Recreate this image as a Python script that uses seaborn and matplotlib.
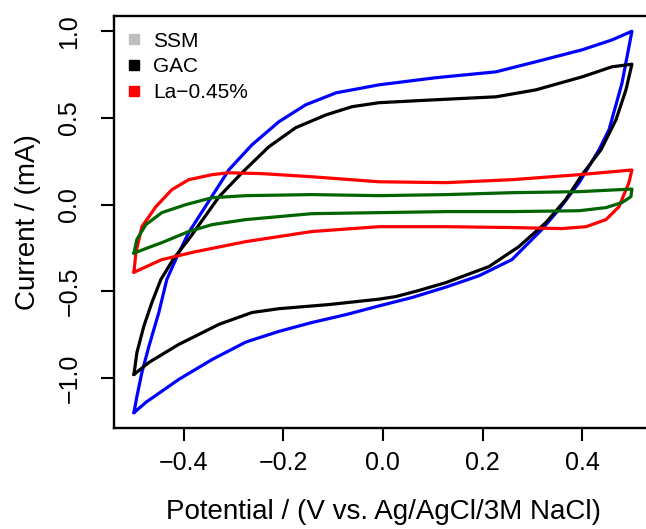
import matplotlib
matplotlib.use("Agg")
import matplotlib.pyplot as plt
import seaborn as sns
from matplotlib.lines import Line2D

# ---------------- data (potential in V, current in mA) ----------------
blue_potential = [-0.500, -0.494, -0.484, -0.470, -0.450, -0.434, -0.412, -0.390, -0.343, -0.309,
                  -0.263, -0.209, -0.155, -0.094, -0.008, 0.106, 0.227, 0.307, 0.400, 0.460, 0.500,
                  0.480, 0.454, 0.434, 0.394, 0.353, 0.319, 0.259, 0.193, 0.127, 0.058, -0.008,
                  -0.074, -0.143, -0.209, -0.275, -0.343, -0.410, -0.476, -0.500]
blue_current = [-1.200, -1.106, -0.968, -0.818, -0.622, -0.432, -0.290, -0.161, 0.050, 0.202,
                0.345, 0.478, 0.576, 0.645, 0.691, 0.732, 0.766, 0.824, 0.893, 0.950, 1.000,
                0.700, 0.432, 0.317, 0.127, -0.029, -0.144, -0.317, -0.410, -0.475, -0.536, -0.584,
                -0.634, -0.680, -0.731, -0.792, -0.893, -1.008, -1.140, -1.200]

black_potential = [-0.500, -0.494, -0.480, -0.464, -0.446, -0.420, -0.390, -0.329, -0.283, -0.229,
                   -0.175, -0.114, -0.062, -0.008, 0.106, 0.227, 0.307, 0.400, 0.460, 0.500,
                   0.488, 0.468, 0.438, 0.400, 0.367, 0.327, 0.273, 0.213, 0.127, 0.072, 0.026,
                   -0.008, -0.108, -0.209, -0.263, -0.329, -0.410, -0.470, -0.500]
black_current = [-0.980, -0.853, -0.700, -0.565, -0.432, -0.310, -0.200, 0.046, 0.184, 0.334,
                 0.444, 0.518, 0.565, 0.588, 0.605, 0.622, 0.662, 0.737, 0.795, 0.810,
                 0.662, 0.490, 0.317, 0.173, 0.029, -0.104, -0.242, -0.357, -0.449, -0.495, -0.530,
                 -0.545, -0.576, -0.600, -0.622, -0.690, -0.806, -0.910, -0.980]

red_potential = [-0.500, -0.496, -0.484, -0.456, -0.424, -0.390, -0.343, -0.309, -0.243, -0.143,
                 -0.008, 0.127, 0.259, 0.394, 0.500,
                 0.494, 0.474, 0.448, 0.408, 0.359, 0.259, 0.127, -0.008, -0.143, -0.275,
                 -0.376, -0.444, -0.500]
red_current = [-0.390, -0.276, -0.127, -0.012, 0.086, 0.144, 0.173, 0.184, 0.179, 0.161,
               0.132, 0.127, 0.144, 0.173, 0.200,
               0.127, -0.012, -0.086, -0.127, -0.138, -0.132, -0.127, -0.127, -0.155, -0.213,
               -0.271, -0.317, -0.390]

green_potential = [-0.500, -0.494, -0.476, -0.444, -0.396, -0.343, -0.275, -0.143, -0.008, 0.127,
                   0.259, 0.394, 0.500,
                   0.498, 0.480, 0.448, 0.394, 0.259, 0.127, -0.008, -0.143, -0.275, -0.343,
                   -0.390, -0.444, -0.476, -0.500]
green_current = [-0.280, -0.200, -0.115, -0.046, 0.000, 0.040, 0.052, 0.058, 0.052, 0.058,
                 0.069, 0.075, 0.090,
                 0.046, 0.012, -0.017, -0.035, -0.040, -0.040, -0.046, -0.052, -0.086, -0.115,
                 -0.155, -0.219, -0.253, -0.280]

legend_labels = ["SSM", "GAC", "La\u22120.45%"]
legend_colors = ["#BEBEBE", "#000000", "#FF0000"]

x_ticks = [-0.4, -0.2, 0.0, 0.2, 0.4]
x_tick_labels = ["\u22120.4", "\u22120.2", "0.0", "0.2", "0.4"]
y_ticks = [1.0, 0.5, 0.0, -0.5, -1.0]
y_tick_labels = ["1.0", "0.5", "0.0", "\u22120.5", "\u22121.0"]

# ---------------- figure ----------------
sns.set_theme(style="ticks")
plt.rcParams['font.family'] = ['Liberation Sans', 'DejaVu Sans']
plt.rcParams['text.color'] = 'black'
plt.rcParams['axes.labelcolor'] = 'black'
plt.rcParams['xtick.color'] = 'black'
plt.rcParams['ytick.color'] = 'black'

W, H = 646, 529
fig = plt.figure(figsize=(W / 100, H / 100), dpi=100, facecolor='white')
# the plot box runs off the right edge of the image, as in the reference
ax_left, ax_right, ax_top, ax_bottom = 114, 700, 16, 428
ax = fig.add_axes([ax_left / W, 1 - ax_bottom / H, (ax_right - ax_left) / W, (ax_bottom - ax_top) / H])

curves = [
    (blue_potential, blue_current, "#0000FF"),
    (black_potential, black_current, "#000000"),
    (red_potential, red_current, "#FF0000"),
    (green_potential, green_current, "#006400"),
]
for xs, ys, col in curves:
    sns.lineplot(x=xs, y=ys, sort=False, estimator=None, color=col, lw=2.3,
                 solid_joinstyle='round', ax=ax)

px_per_volt = 498.0
ax.set_xlim(-0.54, -0.54 + (ax_right - ax_left) / px_per_volt)
ax.set_ylim(-1.288, 1.088)
ax.set_xticks(x_ticks)
ax.set_xticklabels(x_tick_labels)
ax.set_yticks(y_ticks)
ax.set_yticklabels(y_tick_labels)

for name, s in ax.spines.items():
    s.set_visible(name != 'right')
    s.set_linewidth(1.7)
    s.set_color("black")

ax.tick_params(axis='both', direction='out', length=9.5, width=1.5, colors='black', labelsize=18,
               right=False, top=False)
ax.tick_params(axis='x', pad=7)
ax.tick_params(axis='y', pad=14)
for lbl in ax.get_yticklabels():
    lbl.set_rotation(90)
    lbl.set_va('center')

ax.set_xlabel("Potential / (V vs. Ag/AgCl/3M NaCl)", fontsize=20, color='black')
ax.set_ylabel("Current / (mA)", fontsize=20, color='black')
ax.xaxis.set_label_coords((384 - ax_left) / (ax_right - ax_left), -0.172)
ax.yaxis.set_label_coords(-(114 - 41) / (ax_right - ax_left), 0.5)

handles = [Line2D([], [], marker='s', ls='none', color=c, markersize=6.5) for c in legend_colors]
ax.legend(handles, legend_labels, loc='upper left',
          bbox_to_anchor=((125.5 - ax_left) / (ax_right - ax_left), 0.962),
          frameon=False, fontsize=15, handlelength=0.8, handletextpad=0.52,
          labelspacing=0.32, borderaxespad=0, borderpad=0)

fig.savefig("out.png", dpi=100, facecolor='white')
